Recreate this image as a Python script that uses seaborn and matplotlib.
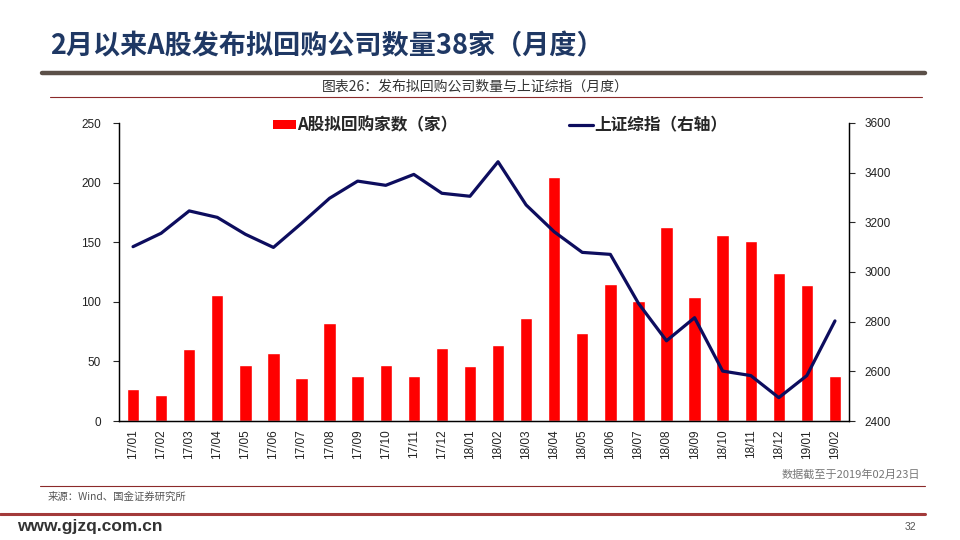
import numpy as np
import pandas as pd
import matplotlib.pyplot as plt
import seaborn as sns
from matplotlib.lines import Line2D
from matplotlib.patches import Patch

months = ['17/01', '17/02', '17/03', '17/04', '17/05', '17/06', '17/07', '17/08',
          '17/09', '17/10', '17/11', '17/12', '18/01', '18/02', '18/03', '18/04',
          '18/05', '18/06', '18/07', '18/08', '18/09', '18/10', '18/11', '18/12',
          '19/01', '19/02']
buyback = [27, 22, 60, 106, 47, 57, 36, 82, 38, 47, 38, 61, 46, 64, 86, 205,
           74, 115, 101, 163, 104, 156, 151, 124, 114, 38]
sh_index = [3102, 3156, 3246, 3220, 3152, 3099, 3196, 3297, 3366, 3349, 3393, 3317,
            3305, 3444, 3270, 3162, 3079, 3071, 2874, 2723, 2816, 2601, 2583, 2494,
            2583, 2803]

left_ticks = [0, 50, 100, 150, 200, 250]
right_ticks = [2400, 2600, 2800, 3000, 3200, 3400, 3600]

df = pd.DataFrame({'month': months, 'buyback': buyback, 'index': sh_index})

sns.set_style('white')
plt.rcParams['font.family'] = ['Liberation Sans', 'Noto Sans CJK SC', 'DejaVu Sans']

fig = plt.figure(figsize=(9.6, 5.4), dpi=100)
ax = fig.add_axes([119 / 960, 1 - 421 / 540, 730 / 960, 298 / 540])

red = '#FF0000'
navy = '#0D0D5E'

sns.barplot(data=df, x='month', y='buyback', color=red, width=0.44,
            saturation=1, ax=ax)
ax2 = ax.twinx()
sns.lineplot(x=np.arange(len(months)), y=df['index'], color=navy, linewidth=2.3,
             ax=ax2)

ax.set_xlim(-0.5, len(months) - 0.5)
ax.set_ylim(0, 250)
ax2.set_ylim(2400, 3600)
ax.set_yticks(left_ticks)
ax2.set_yticks(right_ticks)
ax.set_xlabel('')
ax.set_ylabel('')
ax2.set_ylabel('')

ax.set_xticks(np.arange(len(months)))
ax.set_xticklabels(months, rotation=90, fontsize=8.5, color='#222222')
ax.set_xticks(np.arange(len(months) + 1) - 0.5, minor=True)
ax.tick_params(axis='x', which='major', length=0, pad=6)
ax.tick_params(axis='x', which='minor', length=4, direction='in', width=0.8)
ax.tick_params(axis='y', length=4, direction='out', width=0.8, labelsize=8.5,
               labelcolor='#222222', pad=9)
ax2.tick_params(axis='y', length=4, direction='out', width=0.8, labelsize=8.5,
                labelcolor='#222222', pad=7)

for a in (ax, ax2):
    a.spines['top'].set_visible(False)
    for s in ('left', 'right', 'bottom'):
        a.spines[s].set_color('black')
        a.spines[s].set_linewidth(0.9)
    a.grid(False)
ax.patch.set_alpha(0)

handles = [Patch(facecolor=red, edgecolor='none'),
           Line2D([0], [0], color=navy, linewidth=2.3)]
labels = ['A股拟回购家数（家）', '上证综指（右轴）']
fig.legend(handles, labels, loc='center', bbox_to_anchor=(500 / 960, 1 - 125 / 540),
           ncol=2, frameon=False, columnspacing=6.7, handlelength=1.4,
           handleheight=0.45, handletextpad=0.1,
           prop={'family': ['Noto Sans CJK SC'], 'weight': 'bold', 'size': 12})

# page decorations
fig.text(50 / 960, 1 - 46 / 540, '2月以来A股发布拟回购公司数量38家（月度）',
         fontsize=19.5, fontweight='bold', color='#1F3864', va='center',
         family=['Noto Sans CJK SC'])
fig.add_artist(Line2D([42 / 960, 925 / 960], [1 - 73 / 540] * 2, color='#5B5048',
                      linewidth=3.2))
fig.text(475 / 960, 1 - 87 / 540, '图表26：发布拟回购公司数量与上证综指（月度）',
         fontsize=10, color='#333333', ha='center', va='center',
         family=['Noto Sans CJK SC'])
fig.add_artist(Line2D([50 / 960, 922 / 960], [1 - 97 / 540] * 2, color='#8B2A2A',
                      linewidth=0.8))
fig.text(920 / 960, 1 - 474 / 540, '数据截至于2019年02月23日', fontsize=8,
         color='#777777', ha='right', va='center', style='italic',
         family=['Noto Sans CJK SC'])
fig.add_artist(Line2D([40 / 960, 925 / 960], [1 - 486 / 540] * 2, color='#8B2A2A',
                      linewidth=0.8))
fig.text(48 / 960, 1 - 497 / 540, '来源：Wind、国金证券研究所', fontsize=7.5,
         color='#555555', ha='left', va='center', style='italic',
         family=['Noto Sans CJK SC'])
fig.add_artist(Line2D([0, 925 / 960], [1 - 514 / 540] * 2, color='#A33A3A',
                      linewidth=2.2))
fig.text(17 / 960, 1 - 527 / 540, 'www.gjzq.com.cn', fontsize=12.5, fontweight='bold',
         color='#333333', ha='left', va='center')
fig.text(910 / 960, 1 - 527 / 540, '32', fontsize=7.5, color='#555555',
         ha='center', va='center')

fig.savefig('out.png', dpi=100)
